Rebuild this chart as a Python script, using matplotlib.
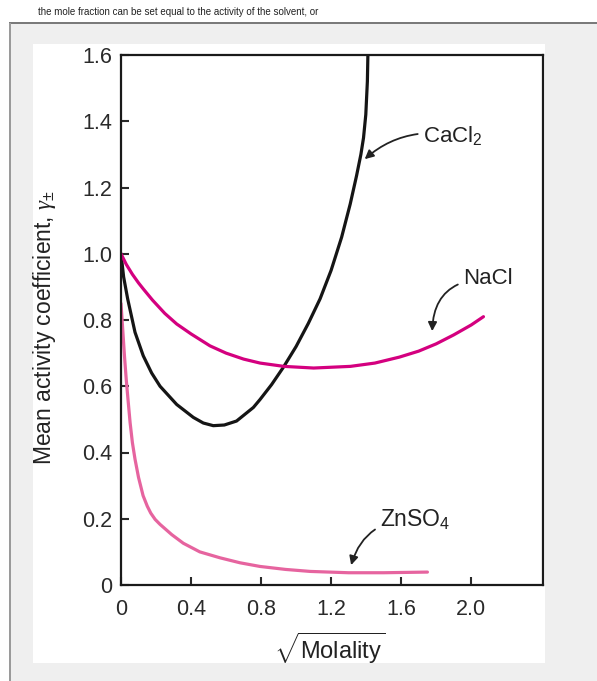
import matplotlib.pyplot as plt
from matplotlib.patches import Rectangle

plt.rcParams['font.family'] = ['Liberation Sans', 'DejaVu Sans']
plt.rcParams['mathtext.fontset'] = 'custom'
plt.rcParams['mathtext.rm'] = 'Liberation Sans'
plt.rcParams['mathtext.it'] = 'Liberation Serif:italic'

# sqrt(molality) vs mean activity coefficient
cacl2_x = [0, 0.015, 0.038, 0.08, 0.127, 0.175, 0.223, 0.318, 0.413, 0.47, 0.527, 0.59, 0.66, 0.756,
           0.794, 0.86, 0.927, 1.0, 1.07, 1.137, 1.2, 1.26, 1.309, 1.345, 1.37, 1.385, 1.398, 1.407, 1.41]
cacl2_y = [1.0, 0.93, 0.864, 0.763, 0.692, 0.64, 0.6, 0.545, 0.506, 0.489, 0.481, 0.483, 0.495, 0.536,
           0.56, 0.605, 0.657, 0.72, 0.79, 0.864, 0.95, 1.05, 1.15, 1.235, 1.3, 1.35, 1.42, 1.52, 1.6]

nacl_x = [0, 0.03, 0.065, 0.1, 0.127, 0.18, 0.25, 0.318, 0.4, 0.508, 0.6, 0.7, 0.794, 0.93, 1.1,
          1.31, 1.45, 1.59, 1.7, 1.8, 1.9, 2.0, 2.07]
nacl_y = [1.0, 0.968, 0.938, 0.912, 0.894, 0.86, 0.82, 0.788, 0.758, 0.722, 0.7, 0.682, 0.67, 0.66, 0.655,
          0.66, 0.67, 0.688, 0.706, 0.728, 0.755, 0.785, 0.81]

znso4_x = [0, 0.01, 0.02, 0.03, 0.04, 0.052, 0.065, 0.08, 0.1, 0.126, 0.15, 0.17, 0.195, 0.223, 0.29,
           0.356, 0.45, 0.566, 0.68, 0.794, 0.94, 1.08, 1.3, 1.5, 1.75]
znso4_y = [0.85, 0.77, 0.69, 0.62, 0.56, 0.49, 0.43, 0.38, 0.325, 0.27, 0.238, 0.217, 0.198, 0.183, 0.152,
           0.126, 0.1, 0.082, 0.067, 0.056, 0.047, 0.041, 0.037, 0.037, 0.039]

x_ticks = [0, 0.4, 0.8, 1.2, 1.6, 2.0]
x_ticklabels = ['0', '0.4', '0.8', '1.2', '1.6', '2.0']
y_ticks = [0, 0.2, 0.4, 0.6, 0.8, 1.0, 1.2, 1.4, 1.6]
y_ticklabels = ['0', '0.2', '0.4', '0.6', '0.8', '1.0', '1.2', '1.4', '1.6']

fig = plt.figure(figsize=(5.97, 6.81), dpi=100)
fig.patch.set_facecolor('white')

# screenshot frame around the figure
W, H = 597, 681
fig.patches.append(Rectangle((9 / W, 0), 1, 1 - 23 / H, transform=fig.transFigure,
                             facecolor='#efefef', edgecolor='none', zorder=-3))
fig.patches.append(Rectangle((9 / W, 1 - 24 / H), 1, 2 / H, transform=fig.transFigure,
                             facecolor='#7a7a7a', edgecolor='none', zorder=-2))
fig.patches.append(Rectangle((9 / W, 0), 2 / W, 1 - 23 / H, transform=fig.transFigure,
                             facecolor='#9a9a9a', edgecolor='none', zorder=-2))
fig.patches.append(Rectangle((33 / W, 1 - 663 / H), (545 - 33) / W, (663 - 44) / H,
                             transform=fig.transFigure, facecolor='white', edgecolor='none', zorder=-1))
fig.text(38 / W, 1 - 12 / H, 'the mole fraction can be set equal to the activity of the solvent, or',
         fontsize=7, color='#222222', va='center', ha='left')

ax = fig.add_axes([121 / W, 1 - 585 / H, (543 - 121) / W, (585 - 55) / H])
ax.set_zorder(5)
ax.set_facecolor('none')

ax.plot(cacl2_x, cacl2_y, color='#151515', lw=2.3, solid_capstyle='round')
ax.plot(nacl_x, nacl_y, color='#d4007f', lw=2.3, solid_capstyle='round')
ax.plot(znso4_x, znso4_y, color='#e6649f', lw=2.3, solid_capstyle='round')

ax.set_xlim(0, 2.41)
ax.set_ylim(0, 1.6)
ax.set_xticks(x_ticks)
ax.set_xticklabels(x_ticklabels)
ax.set_yticks(y_ticks)
ax.set_yticklabels(y_ticklabels)
ax.tick_params(direction='in', length=5.5, width=1.5, labelsize=15.5, colors='#2a2a2a')
ax.tick_params(axis='y', pad=6.5)
ax.tick_params(axis='x', pad=10)
for s in ax.spines.values():
    s.set_linewidth(1.6)
    s.set_color('#1a1a1a')

ax.set_ylabel(r'Mean activity coefficient, $\it{\gamma}_{\pm}$', fontsize=16.5, color='#222222')
ax.yaxis.set_label_coords(-0.15, 0.485)
ax.set_xlabel(r'$\sqrt{\mathrm{Molality}}$', fontsize=17, color='#222222')
ax.xaxis.set_label_coords(0.495, -0.085)

arrow = dict(arrowstyle='-|>', color='#222222', lw=1.3, mutation_scale=13)
ax.annotate(r'CaCl$_2$', xy=(1.38, 1.28), xytext=(1.726, 1.358), fontsize=16, va='center',
            color='#222222', arrowprops=dict(connectionstyle='arc3,rad=0.25', **arrow))
ax.annotate('NaCl', xy=(1.777, 0.758), xytext=(1.954, 0.924), fontsize=16, va='center',
            color='#222222', arrowprops=dict(connectionstyle='arc3,rad=0.5', **arrow))
ax.annotate(r'ZnSO$_4$', xy=(1.31, 0.052), xytext=(1.48, 0.197), fontsize=16.5, va='center',
            color='#222222', arrowprops=dict(connectionstyle='arc3,rad=0.4', **arrow))

fig.savefig('out.png', dpi=100)
